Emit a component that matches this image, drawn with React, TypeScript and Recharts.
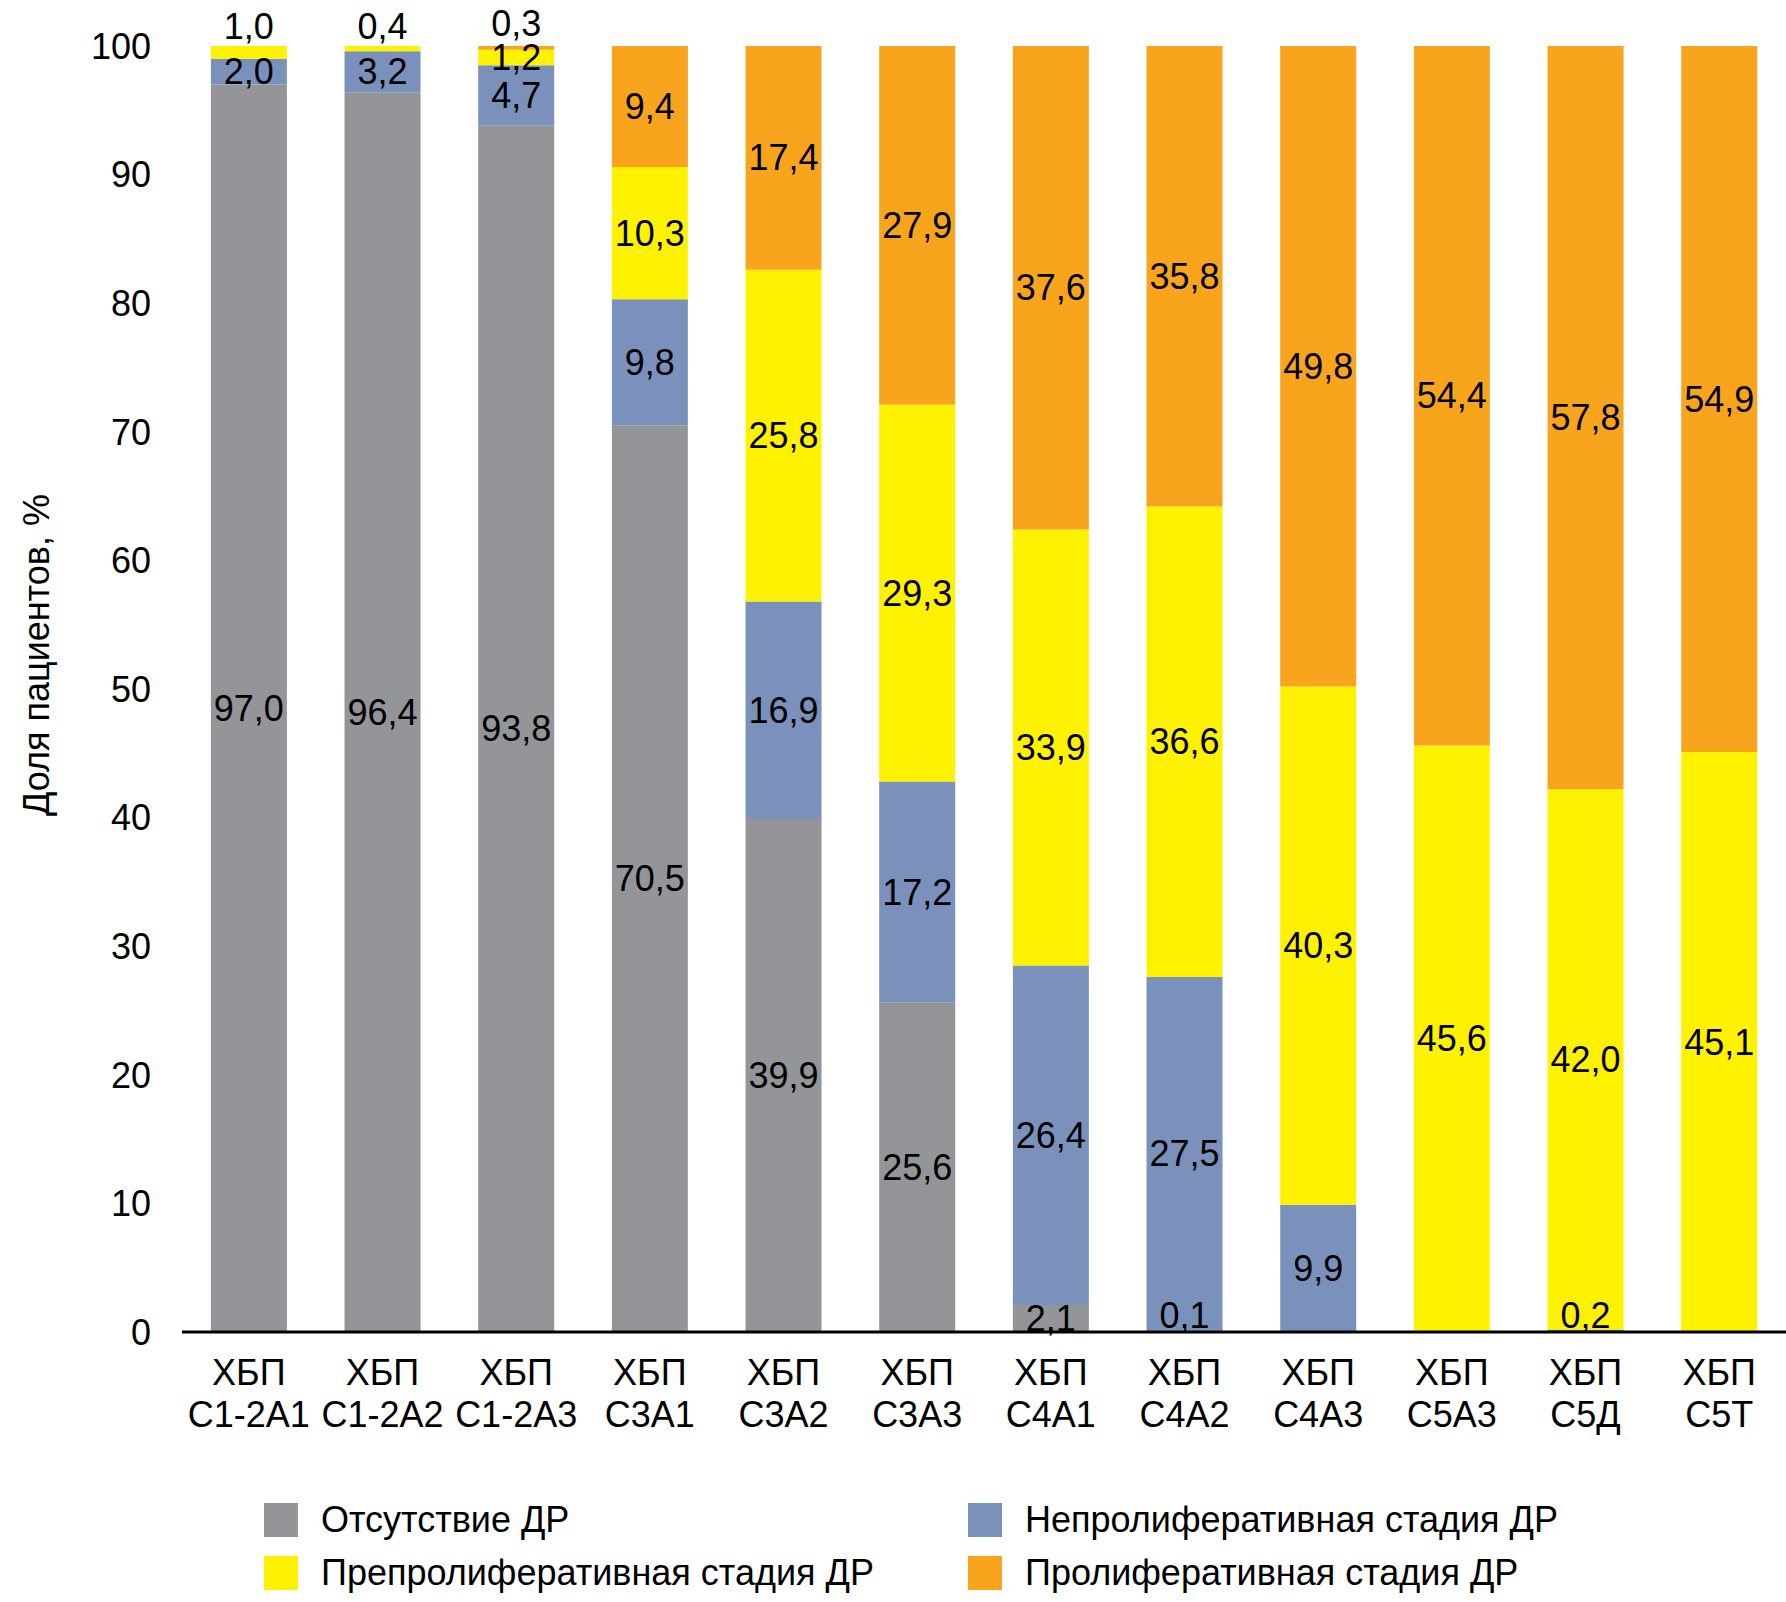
import { BarChart, Bar, XAxis, YAxis, LabelList, Legend } from 'recharts'

const categories = [
  'ХБП С1-2А1',
  'ХБП С1-2А2',
  'ХБП С1-2А3',
  'ХБП С3А1',
  'ХБП С3А2',
  'ХБП С3А3',
  'ХБП С4А1',
  'ХБП С4А2',
  'ХБП С4А3',
  'ХБП С5А3',
  'ХБП С5Д',
  'ХБП С5Т',
]

// % of patients per stage
const noDr = [97.0, 96.4, 93.8, 70.5, 39.9, 25.6, 2.1, 0.1, 0, 0, 0, 0]
const nonProlif = [2.0, 3.2, 4.7, 9.8, 16.9, 17.2, 26.4, 27.5, 9.9, 0, 0.2, 0]
const preProlif = [1.0, 0.4, 1.2, 10.3, 25.8, 29.3, 33.9, 36.6, 40.3, 45.6, 42.0, 45.1]
const prolif = [0, 0, 0.3, 9.4, 17.4, 27.9, 37.6, 35.8, 49.8, 54.4, 57.8, 54.9]

const yTicks = [0, 10, 20, 30, 40, 50, 60, 70, 80, 90, 100]

const seriesKeys = ['noDr', 'nonProlif', 'preProlif', 'prolif']
const seriesNames = [
  'Отсутствие ДР',
  'Непролиферативная стадия ДР',
  'Препролиферативная стадия ДР',
  'Пролиферативная стадия ДР',
]
const seriesValues = [noDr, nonProlif, preProlif, prolif]
const seriesColors = ['#939598', '#7A91BC', '#FFF200', '#F8A51D']

const FONT = "'Liberation Sans', Arial, sans-serif"
const FONT_SIZE = 36

const data = categories.map((name, i) => ({
  name,
  noDr: noDr[i],
  nonProlif: nonProlif[i],
  preProlif: preProlif[i],
  prolif: prolif[i],
}))

const fmt = (v: number) => v.toFixed(1).replace('.', ',')

const makeLabel = (s: number) => (props: any) => {
  const vb = props.viewBox || {}
  const x = props.x ?? vb.x
  const y = props.y ?? vb.y
  const width = props.width ?? vb.width
  const height = props.height ?? vb.height
  const value = Number(props.value)
  const index = props.index
  if (!value) return null
  const below = seriesValues.slice(0, s).reduce((a, arr) => a + arr[index], 0)
  let cy = y + height / 2
  if (value < 1.1 && below < 0.5) cy = y + height - 17
  else if (value < 1.1 && below + value > 99.5) cy = y - (s === 3 ? 23 : 20)
  return (
    <text
      x={x + width / 2}
      y={cy}
      textAnchor="middle"
      dominantBaseline="central"
      fontFamily={FONT}
      fontSize={FONT_SIZE}
      fill="#000"
    >
      {fmt(value)}
    </text>
  )
}

const CategoryTick = (props: any) => {
  const { x, y, payload } = props
  const [top, bottom] = String(payload.value).split(' ')
  return (
    <g>
      <text x={x} y={y + 40} textAnchor="middle" dominantBaseline="central" fontFamily={FONT} fontSize={FONT_SIZE} fill="#000">
        {top}
      </text>
      <text x={x} y={y + 82} textAnchor="middle" dominantBaseline="central" fontFamily={FONT} fontSize={FONT_SIZE} fill="#000">
        {bottom}
      </text>
    </g>
  )
}

const LegendBox = (props: any) => {
  const payload = [...(props.payload || [])].sort(
    (a: any, b: any) => seriesNames.indexOf(a.value) - seriesNames.indexOf(b.value)
  )
  const colX = [264, 968]
  const rowY = [30, 83]
  return (
    <div style={{ position: 'relative', height: 110, width: '100%' }}>
      {payload.map((entry: any, i: number) => {
        const left = colX[i % 2]
        const top = rowY[Math.floor(i / 2)]
        return (
          <div key={`leg-${i}`}>
            <div
              style={{
                position: 'absolute',
                left,
                top: top - 17,
                width: 34,
                height: 34,
                background: entry.color,
              }}
            />
            <div
              style={{
                position: 'absolute',
                left: left + 57,
                top: top - 25,
                height: 50,
                lineHeight: '50px',
                fontFamily: FONT,
                fontSize: FONT_SIZE,
                color: '#000',
                whiteSpace: 'nowrap',
              }}
            >
              {entry.value}
            </div>
          </div>
        )
      })}
    </div>
  )
}

export default function App() {
  return (
    <div style={{ position: 'absolute', left: 0, top: 0 }}>
      <BarChart
        width={1786}
        height={1602}
        data={data}
        margin={{ top: 46, right: 0, left: 0, bottom: 2 }}
        barCategoryGap="21.6%"
      >
        <XAxis
          dataKey="name"
          interval={0}
          height={158}
          tickLine={false}
          tickSize={0}
          tickMargin={0}
          axisLine={{ stroke: '#000', strokeWidth: 3 }}
          tick={<CategoryTick />}
        />
        <YAxis
          type="number"
          domain={[0, 100]}
          ticks={yTicks}
          width={182}
          axisLine={false}
          tickLine={false}
          tickSize={0}
          tickMargin={31}
          tick={{ fontFamily: FONT, fontSize: FONT_SIZE, fill: '#000' }}
          label={{
            value: 'Доля пациентов, %',
            content: (p: any) => (
              <text
                x={36}
                y={655}
                transform="rotate(-90 36 655)"
                textAnchor="middle"
                dominantBaseline="central"
                fontFamily={FONT}
                fontSize={FONT_SIZE}
                fill="#000"
              >
                {p.value}
              </text>
            ),
          }}
        />
        <Legend verticalAlign="bottom" content={<LegendBox />} />
        {seriesKeys.map((key, s) => (
          <Bar
            key={key}
            dataKey={key}
            name={seriesNames[s]}
            stackId="dr"
            fill={seriesColors[s]}
            isAnimationActive={false}
          >
            <LabelList dataKey={key} content={makeLabel(s)} />
          </Bar>
        ))}
      </BarChart>
    </div>
  )
}
